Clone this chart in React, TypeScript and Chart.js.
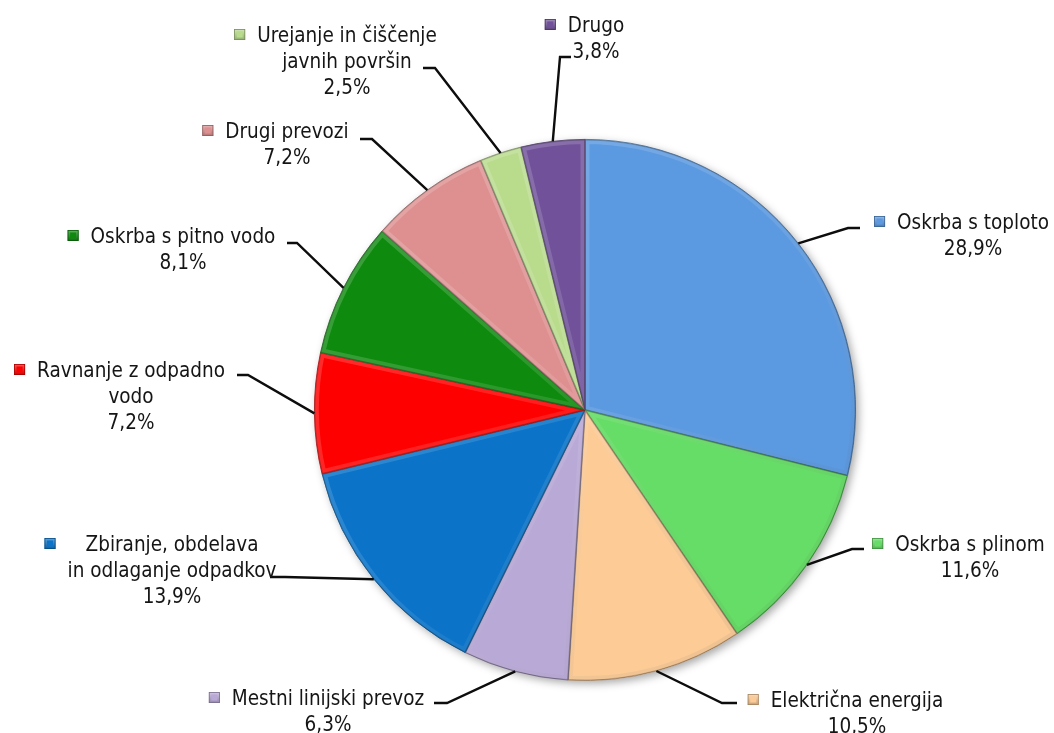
import React, { useEffect, useRef } from "react";
import { Chart, registerables } from "chart.js";

Chart.register(...registerables);

// Shares of public utility services (percent), clockwise from 12 o'clock
const CATEGORIES = [
  "Oskrba s toploto",
  "Oskrba s plinom",
  "Električna energija",
  "Mestni linijski prevoz",
  "Zbiranje, obdelava in odlaganje odpadkov",
  "Ravnanje z odpadno vodo",
  "Oskrba s pitno vodo",
  "Drugi prevozi",
  "Urejanje in čiščenje javnih površin",
  "Drugo",
];

const SHARES = [28.9, 11.6, 10.5, 6.3, 13.9, 7.2, 8.1, 7.2, 2.5, 3.8];

// How each category name is broken into lines in its label
const LABEL_LINES = [
  ["Oskrba s toploto"],
  ["Oskrba s plinom"],
  ["Električna energija"],
  ["Mestni linijski prevoz"],
  ["Zbiranje, obdelava", "in odlaganje odpadkov"],
  ["Ravnanje z odpadno", "vodo"],
  ["Oskrba s pitno vodo"],
  ["Drugi prevozi"],
  ["Urejanje in čiščenje", "javnih površin"],
  ["Drugo"],
];

const COLORS = [
  "#5B99E0",
  "#66DD66",
  "#FCCB96",
  "#B9A9D7",
  "#0B74C9",
  "#FF0000",
  "#0E8A0E",
  "#DE8F8F",
  "#B8DB8C",
  "#70519A",
];

// Label placement: text centre x, first baseline y, leader elbow and leader end
const LABEL_PLACES = [
  { cx: 973, base: 229, elbow: [848, 228], end: [860, 228] },
  { cx: 970, base: 551, elbow: [852, 549], end: [864, 549] },
  { cx: 857, base: 707, elbow: [722, 703], end: [737, 703] },
  { cx: 328, base: 705, elbow: [447, 703], end: [434, 703] },
  { cx: 172, base: 551, elbow: [285, 577], end: [270, 577] },
  { cx: 131, base: 377, elbow: [248, 375], end: [237, 375] },
  { cx: 183, base: 243, elbow: [297, 243], end: [287, 243] },
  { cx: 287, base: 138, elbow: [372, 139], end: [360, 139] },
  { cx: 347, base: 42, elbow: [435, 68], end: [423, 68] },
  { cx: 596, base: 32, elbow: [560, 57], end: [571, 57] },
];

const FONT = '20.5px "DejaVu Sans Condensed", "DejaVu Sans", sans-serif';
const LINE_H = 26;

const formatShare = (v: number) => v.toFixed(1).replace(".", ",") + "%";

function shade(hex: string, f: number): string {
  const n = parseInt(hex.slice(1), 16);
  let r = (n >> 16) & 255, g = (n >> 8) & 255, b = n & 255;
  if (f < 0) {
    r = Math.round(r * (1 + f)); g = Math.round(g * (1 + f)); b = Math.round(b * (1 + f));
  } else {
    r = Math.round(r + (255 - r) * f); g = Math.round(g + (255 - g) * f); b = Math.round(b + (255 - b) * f);
  }
  return `rgb(${r},${g},${b})`;
}

const pieShadow = {
  id: "pieShadow",
  beforeDatasetsDraw(chart: any) {
    const arc = chart.getDatasetMeta(0).data[0];
    if (!arc) return;
    const { x, y, outerRadius } = arc.getProps(["x", "y", "outerRadius"], true);
    const ctx = chart.ctx;
    ctx.save();
    ctx.shadowColor = "rgba(0,0,0,0.35)";
    ctx.shadowBlur = 8;
    ctx.shadowOffsetX = 3;
    ctx.shadowOffsetY = 3;
    ctx.beginPath();
    ctx.arc(x, y, outerRadius, 0, Math.PI * 2);
    ctx.fillStyle = "#ffffff";
    ctx.fill();
    ctx.restore();
  },
};

// soft inner bevel on every slice: lighter toward the top-left, darker rim
const sliceBevel = {
  id: "sliceBevel",
  afterDatasetsDraw(chart: any) {
    const ctx = chart.ctx;
    chart.getDatasetMeta(0).data.forEach((arc: any) => {
      const { x, y, startAngle, endAngle, outerRadius } = arc.getProps(
        ["x", "y", "startAngle", "endAngle", "outerRadius"],
        true
      );
      ctx.save();
      ctx.beginPath();
      ctx.moveTo(x, y);
      ctx.arc(x, y, outerRadius, startAngle, endAngle);
      ctx.closePath();
      ctx.clip();
      const g = ctx.createLinearGradient(x - outerRadius, y - outerRadius, x + outerRadius, y + outerRadius);
      g.addColorStop(0, "rgba(255,255,255,0.22)");
      g.addColorStop(0.5, "rgba(255,255,255,0.10)");
      g.addColorStop(1, "rgba(0,0,0,0.06)");
      ctx.lineJoin = "round";
      ctx.lineWidth = 9;
      ctx.strokeStyle = g;
      ctx.stroke();
      ctx.lineWidth = 2;
      ctx.strokeStyle = "rgba(0,0,0,0.18)";
      ctx.stroke();
      ctx.restore();
    });
  },
};

const leaderLabels = {
  id: "leaderLabels",
  afterDraw(chart: any) {
    const ctx = chart.ctx;
    const meta = chart.getDatasetMeta(0);
    meta.data.forEach((arc: any, i: number) => {
      const { x, y, startAngle, endAngle, outerRadius } = arc.getProps(
        ["x", "y", "startAngle", "endAngle", "outerRadius"],
        true
      );
      const mid = (startAngle + endAngle) / 2;
      const ax = x + Math.cos(mid) * outerRadius;
      const ay = y + Math.sin(mid) * outerRadius;
      const place = LABEL_PLACES[i];

      // leader line
      ctx.save();
      ctx.beginPath();
      ctx.moveTo(ax, ay);
      ctx.lineTo(place.elbow[0], place.elbow[1]);
      ctx.lineTo(place.end[0], place.end[1]);
      ctx.lineWidth = 2.4;
      ctx.strokeStyle = "#0d0d0d";
      ctx.lineJoin = "miter";
      ctx.stroke();
      ctx.restore();

      // text block
      const lines = [...LABEL_LINES[i], formatShare(SHARES[i])];
      ctx.save();
      ctx.font = FONT;
      ctx.fillStyle = "#151515";
      ctx.textAlign = "center";
      ctx.textBaseline = "alphabetic";
      let maxW = 0;
      lines.forEach((ln, k) => {
        maxW = Math.max(maxW, ctx.measureText(ln).width);
        ctx.fillText(ln, place.cx, place.base + k * LINE_H);
      });
      ctx.restore();

      // legend key
      const size = 11;
      const kx = place.cx - maxW / 2 - 12 - size;
      const ky = place.base - 7.5 - size / 2;
      ctx.save();
      const kg = ctx.createLinearGradient(kx, ky, kx, ky + size);
      kg.addColorStop(0, shade(COLORS[i], 0.35));
      kg.addColorStop(1, shade(COLORS[i], -0.2));
      ctx.fillStyle = kg;
      ctx.fillRect(kx, ky, size, size);
      ctx.fillStyle = COLORS[i];
      ctx.fillRect(kx + 2.5, ky + 2.5, size - 5, size - 5);
      ctx.strokeStyle = shade(COLORS[i], -0.35);
      ctx.lineWidth = 0.8;
      ctx.strokeRect(kx + 0.4, ky + 0.4, size - 0.8, size - 0.8);
      ctx.restore();
    });
  },
};

export default function App() {
  const canvasRef = useRef<HTMLCanvasElement | null>(null);

  useEffect(() => {
    if (!canvasRef.current) return;
    const chart = new Chart(canvasRef.current, {
      type: "pie",
      data: {
        labels: CATEGORIES,
        datasets: [
          {
            data: SHARES,
            backgroundColor: COLORS,
            borderColor: COLORS.map((c) => shade(c, -0.35)),
            borderWidth: 0.8,
          },
        ],
      },
      options: {
        responsive: false,
        animation: false,
        layout: { padding: { left: 314, top: 139, right: 198, bottom: 52 } },
        plugins: {
          legend: { display: false },
          tooltip: { enabled: false },
        },
      },
      plugins: [pieShadow, sliceBevel, leaderLabels],
    });
    return () => chart.destroy();
  }, []);

  return (
    <div style={{ position: "fixed", left: 0, top: 0, width: 1054, height: 733, background: "#ffffff" }}>
      <canvas ref={canvasRef} width={1054} height={733} />
    </div>
  );
}
